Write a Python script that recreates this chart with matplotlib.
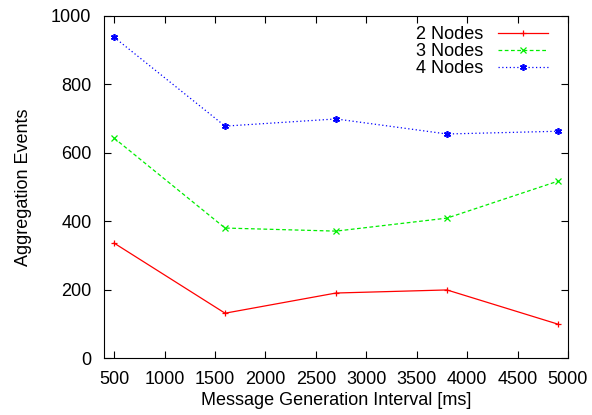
import matplotlib.pyplot as plt

plt.rcParams['font.family'] = ['Liberation Sans', 'DejaVu Sans']

intervals = [500, 1600, 2700, 3800, 4900]
nodes2 = [336, 131, 190, 199, 99]
nodes3 = [643, 380, 371, 409, 517]
nodes4 = [938, 678, 699, 655, 663]

fig = plt.figure(figsize=(5.92, 4.15), dpi=100)
ax = fig.add_axes([104 / 592, 57 / 415, 464 / 592, 342 / 415])

ax.plot(intervals, nodes2, color='#ff0000', linestyle='-', linewidth=0.9,
        marker='+', markersize=5, markeredgewidth=0.9, label='2 Nodes')
ax.plot(intervals, nodes3, color='#00ee00', linestyle=(0, (3, 2)), linewidth=0.9,
        marker='x', markersize=4, markeredgewidth=0.9, label='3 Nodes')
ax.plot(intervals, nodes4, color='#0000ff', linestyle=(0, (1, 2)), linewidth=0.9,
        marker=(6, 2, 0), markersize=5, markeredgewidth=1.2, label='4 Nodes')

ax.set_xlim(400, 5000)
ax.set_ylim(0, 1000)
ax.set_xticks(range(500, 5001, 500))
ax.set_yticks(range(0, 1001, 200))
ax.tick_params(direction='in', top=True, right=True, length=5, labelsize=13, pad=9)
ax.set_xlabel('Message Generation Interval [ms]', fontsize=13, labelpad=3)
ax.set_ylabel('Aggregation Events', fontsize=13, labelpad=14)

ax.legend(loc='upper right', bbox_to_anchor=(1 - 10 / 464, 1), frameon=False,
          markerfirst=False, fontsize=13, handlelength=2.8, labelspacing=0.0,
          borderaxespad=0.15, handletextpad=0.8)

fig.savefig('out.png', dpi=100)
